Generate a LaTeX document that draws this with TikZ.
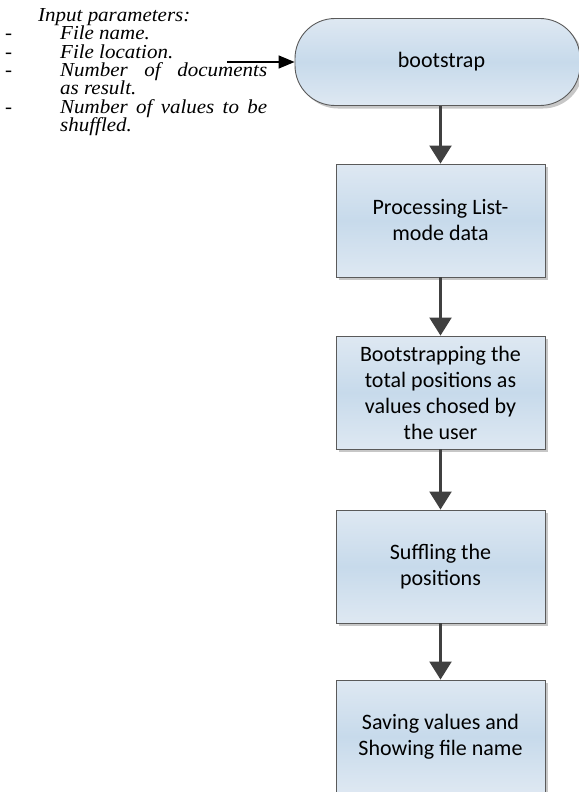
\documentclass[tikz,border=0pt]{standalone}
\usepackage{fontspec}
\usetikzlibrary{arrows.meta,shadows,shapes.misc}
\newfontfamily\boxfont{Carlito}
\newfontfamily\paramfont[FakeStretch=1.06]{Liberation Serif}
\definecolor{boxtop}{RGB}{222,232,242}
\definecolor{boxmid}{RGB}{199,218,235}
\definecolor{boxline}{RGB}{90,90,90}
\definecolor{flowline}{RGB}{64,64,64}
\tikzset{
  flowshade/.style={top color=boxtop, bottom color=boxtop, middle color=boxmid},
  flowshadow/.style={drop shadow={shadow xshift=3pt, shadow yshift=-3pt, fill=black!22, opacity=1}},
  procbox/.style={rectangle, draw=boxline, line width=0.9pt, flowshade, flowshadow,
    minimum width=209pt, minimum height=113pt, inner sep=0pt, align=center,
    font={\boxfont\fontsize{22}{26}\selectfont}},
  termbox/.style={rectangle, rounded corners=40pt, draw=boxline, line width=0.9pt, flowshade, flowshadow,
    minimum width=285pt, minimum height=87pt, inner sep=0pt, align=center,
    font={\boxfont\fontsize{22}{26}\selectfont}},
  flowarrow/.style={draw=flowline, line width=2.2pt, -{Triangle[length=18pt,width=22pt]}},
  inarrow/.style={draw=black, line width=1.4pt, -{Triangle[length=16pt,width=13pt]}}
}
\begin{document}
\begin{tikzpicture}[x=1pt,y=-1pt]
\useasboundingbox (0,0) rectangle (578,792);

% input parameter list
\node[anchor=north west, inner sep=0pt, align=left,
      font={\paramfont\itshape\fontsize{19.8}{18.3}\selectfont}] (params) at (5,8.5) {%
\hspace*{33pt}Input parameters:\\
\makebox[55pt][l]{-}File name.\\
\makebox[55pt][l]{-}File location.\\
\makebox[55pt][l]{-}\makebox[207pt][s]{Number of documents}\\
\hspace*{55pt}as result.\\
\makebox[55pt][l]{-}\makebox[207pt][s]{Number of values to be}\\
\hspace*{55pt}shuffled.};

% flow chart
\node[termbox] (boot) at (437.5,62) {\hspace*{8pt}bootstrap};
\node[procbox] (b1) at (440.5,220.5) {Processing List-\\mode data};
\node[procbox] (b2) at (440.5,392.5) {Bootstrapping the\\total positions as\\values chosed by\\the user};
\node[procbox] (b3) at (440.5,566.5) {Suffling the\\positions};
\node[procbox] (b4) at (440.5,736.5) {Saving values and\\Showing file name};

\coordinate (in) at (227,62);
\draw[inarrow] (in) -- (boot.west);
\draw[flowarrow] (boot.south -| b1.north) -- (b1.north);
\draw[flowarrow] (b1.south) -- (b2.north);
\draw[flowarrow] (b2.south) -- (b3.north);
\draw[flowarrow] (b3.south) -- (b4.north);
\end{tikzpicture}
\end{document}
